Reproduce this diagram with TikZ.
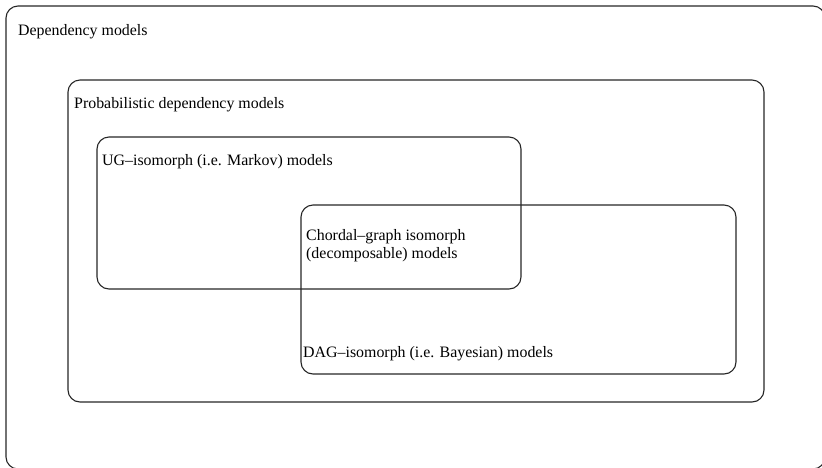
\documentclass[tikz,border=0pt]{standalone}
\usepackage{fontspec}
\setmainfont{Liberation Serif}
\usepackage{tikz}
\tikzset{
	setbox/.style={line width=1.1pt, color=black!85, rounded corners=12pt},
	setlabel/.style={anchor=base west, inner sep=0pt, font=\fontsize{15.9}{18}\selectfont, align=left}
}

\begin{document}
\begin{tikzpicture}[x=1pt, y=-1pt]
			%%%%% START %%%%%
			\useasboundingbox (0, 0) rectangle (822, 467);
			\clip (0, 0) rectangle (822, 467);
			
			\draw[setbox] (6, 6) rectangle (825, 469);
			\node[setlabel] (dep) at (18, 35) {Dependency models};
			
			\draw[setbox] (68, 80) rectangle (764, 402);
			\node[setlabel] (prob) at (74, 108) {Probabilistic dependency models};
			
			\draw[setbox] (97, 137) rectangle (521, 289);
			\node[setlabel] (ug) at (102, 165) {UG\textendash isomorph (i.e. Markov) models};
			
			\draw[setbox] (301, 205) rectangle (736, 374);
			\node[setlabel] (chordal) at (306, 258) {Chordal\textendash graph isomorph\\(decomposable) models};
			\node[setlabel] (dag) at (303, 357) {DAG\textendash isomorph (i.e. Bayesian) models};
			
			%%%%% END %%%%%
		\end{tikzpicture}
\end{document}
